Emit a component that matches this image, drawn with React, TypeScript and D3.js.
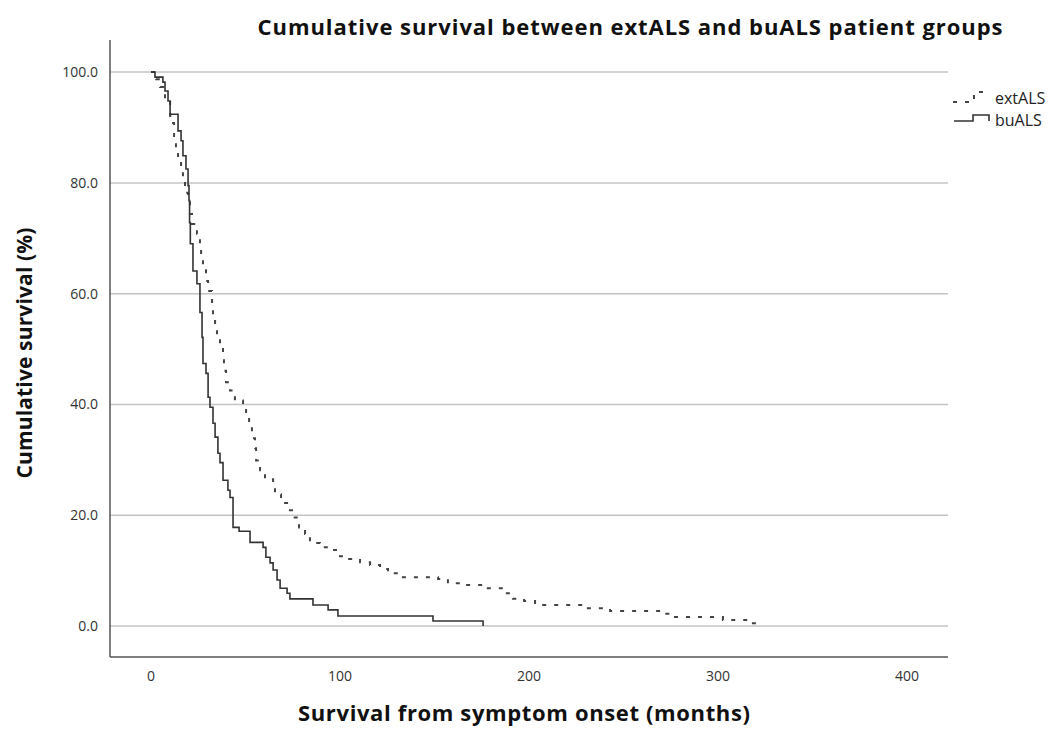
import React, { useEffect, useRef } from "react";
import * as d3 from "d3";

// Kaplan-Meier steps (months, cumulative survival %)
const extMonths = [0, 2.6, 4.8, 7.4, 10.1, 11.1, 12.2, 13.2, 14.3, 15.9, 16.9, 18.0, 19.6, 20.6, 21.7, 24.3, 25.9, 26.5, 27.5, 29.1, 30.2, 32.3, 32.8, 33.9, 34.9, 36.5, 38.1, 38.6, 39.7, 41.8, 44.4, 48.7, 50.3, 51.9, 53.4, 55.0, 55.6, 57.7, 60.3, 64.6, 65.6, 68.8, 72.0, 74.6, 78.3, 81.5, 84.1, 89.4, 94.7, 98.9, 104.2, 110.6, 115.9, 121.2, 125.4, 131.7, 151.9, 157.1, 163.5, 175.7, 187.3, 191.5, 197.4, 203.2, 229.6, 242.9, 270.4, 275.7, 302.6, 315.9, 321.2];
const extSurvival = [100, 98.7, 97.3, 94.8, 92.1, 90.8, 88.1, 86.3, 84.5, 82.5, 80.4, 78.2, 76.8, 74.4, 72.6, 70.8, 68.6, 66.5, 64.5, 62.3, 60.5, 58.2, 56.0, 53.9, 52.1, 50.3, 48.3, 46.1, 44.0, 42.5, 40.7, 40.0, 37.7, 35.9, 33.9, 32.1, 29.9, 28.1, 26.5, 25.6, 23.8, 22.2, 20.9, 19.6, 17.8, 16.6, 15.0, 14.2, 13.7, 12.6, 12.1, 11.5, 11.0, 10.3, 9.5, 8.8, 8.5, 7.7, 7.4, 6.8, 5.9, 4.9, 4.5, 3.8, 3.2, 2.7, 2.2, 1.6, 1.1, 0.5, 0];

const buMonths = [0, 2.1, 6.3, 7.4, 9.0, 10.1, 14.3, 15.9, 16.9, 18.5, 19.6, 20.1, 20.4, 20.8, 22.2, 24.3, 25.9, 27.0, 27.5, 29.1, 30.2, 31.2, 32.8, 33.9, 35.4, 36.5, 38.1, 40.7, 41.8, 43.4, 46.6, 52.4, 59.3, 60.8, 63.0, 64.6, 66.7, 68.3, 72.0, 73.5, 85.7, 93.7, 98.9, 149.2, 175.7];
const buSurvival = [100, 99.1, 98.2, 96.6, 94.8, 92.4, 89.4, 87.6, 84.9, 82.5, 79.5, 76.8, 72.8, 69.0, 64.1, 61.8, 56.6, 52.1, 47.4, 45.6, 41.3, 39.5, 36.6, 34.1, 31.2, 29.5, 26.3, 24.5, 23.2, 17.8, 17.1, 15.1, 14.2, 12.4, 11.4, 10.1, 8.3, 6.8, 5.9, 4.9, 3.8, 2.9, 1.8, 0.9, 0];

const xTicks = [0, 100, 200, 300, 400];
const yTicks = [0, 20, 40, 60, 80, 100];
const groups = ["extALS", "buALS"];

const FONT = "'Open Sans', 'Noto Sans', sans-serif";

export default function App() {
  const ref = useRef<SVGSVGElement>(null);

  useEffect(() => {
    const svg = d3.select(ref.current);
    svg.selectAll("*").remove();

    const left = 110, right = 948, top = 40, bottom = 657;

    const x = d3.scaleLinear().domain([-21.7, 421.7]).range([left, right]);
    const y = d3.scaleLinear().domain([-5.6, 105.8]).range([bottom, top]);

    // gridlines
    svg.append("g")
      .selectAll("line")
      .data(yTicks)
      .join("line")
      .attr("x1", left)
      .attr("x2", right)
      .attr("y1", (d) => y(d))
      .attr("y2", (d) => y(d))
      .attr("stroke", "#c4c4c4")
      .attr("stroke-width", 1.5);

    // axis lines
    svg.append("line")
      .attr("x1", left).attr("x2", left).attr("y1", top).attr("y2", bottom)
      .attr("stroke", "#555").attr("stroke-width", 1.5);
    svg.append("line")
      .attr("x1", left).attr("x2", right).attr("y1", bottom).attr("y2", bottom)
      .attr("stroke", "#555").attr("stroke-width", 1.5);

    // tick labels
    svg.append("g")
      .selectAll("text")
      .data(yTicks)
      .join("text")
      .attr("x", left - 12)
      .attr("y", (d) => y(d))
      .attr("dy", "0.35em")
      .attr("text-anchor", "end")
      .attr("font-family", FONT)
      .attr("font-size", 14)
      .attr("fill", "#333")
      .text((d) => d3.format(".1f")(d));

    svg.append("g")
      .selectAll("text")
      .data(xTicks)
      .join("text")
      .attr("x", (d) => x(d))
      .attr("y", 681)
      .attr("text-anchor", "middle")
      .attr("font-family", FONT)
      .attr("font-size", 14)
      .attr("fill", "#333")
      .text((d) => d);

    // survival curves
    const line = d3.line<[number, number]>()
      .x((d) => x(d[0]))
      .y((d) => y(d[1]))
      .curve(d3.curveStepAfter);

    const extData = extMonths.map((m, i) => [m, extSurvival[i]] as [number, number]);
    const buData = buMonths.map((m, i) => [m, buSurvival[i]] as [number, number]);

    svg.append("path")
      .attr("d", line(extData))
      .attr("fill", "none")
      .attr("stroke", "#444")
      .attr("stroke-width", 2)
      .attr("stroke-dasharray", "4,8");

    svg.append("path")
      .attr("d", line(buData))
      .attr("fill", "none")
      .attr("stroke", "#333")
      .attr("stroke-width", 1.6);

    // legend
    const lg = svg.append("g");
    lg.append("path")
      .attr("d", "M953,102 H974 V92 H991")
      .attr("fill", "none")
      .attr("stroke", "#444")
      .attr("stroke-width", 2)
      .attr("stroke-dasharray", "4,8");
    lg.append("path")
      .attr("d", "M954,121 H973 V115 H989 V121")
      .attr("fill", "none")
      .attr("stroke", "#333")
      .attr("stroke-width", 1.6);
    lg.selectAll("text")
      .data(groups)
      .join("text")
      .attr("x", 995)
      .attr("y", (d, i) => 104 + i * 22)
      .attr("font-family", FONT)
      .attr("font-size", 16)
      .attr("fill", "#222")
      .text((d) => d);

    // titles
    svg.append("text")
      .attr("x", 630)
      .attr("y", 35)
      .attr("text-anchor", "middle")
      .attr("font-family", FONT)
      .attr("font-weight", "bold")
      .attr("font-size", 22)
      .attr("textLength", 745)
      .attr("lengthAdjust", "spacing")
      .attr("fill", "#111")
      .text("Cumulative survival between extALS and buALS patient groups");

    svg.append("text")
      .attr("x", 524)
      .attr("y", 721)
      .attr("text-anchor", "middle")
      .attr("font-family", FONT)
      .attr("font-weight", "bold")
      .attr("font-size", 22)
      .attr("textLength", 452)
      .attr("lengthAdjust", "spacing")
      .attr("fill", "#111")
      .text("Survival from symptom onset (months)");

    svg.append("text")
      .attr("transform", "translate(32,353) rotate(-90)")
      .attr("text-anchor", "middle")
      .attr("font-family", FONT)
      .attr("font-weight", "bold")
      .attr("font-size", 21)
      .attr("textLength", 251)
      .attr("lengthAdjust", "spacing")
      .attr("fill", "#111")
      .text("Cumulative survival (%)");
  }, []);

  return (
    <svg
      ref={ref}
      width={1060}
      height={729}
      style={{ position: "absolute", left: 0, top: 0, background: "#fff" }}
    />
  );
}
